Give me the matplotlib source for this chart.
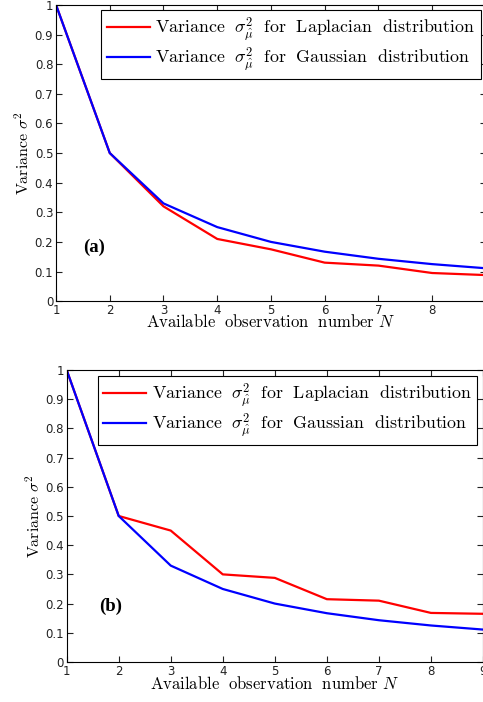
import matplotlib
matplotlib.use("Agg")
import matplotlib.pyplot as plt
from matplotlib.font_manager import FontProperties

plt.rcParams['mathtext.fontset'] = 'cm'

N = [1, 2, 3, 4, 5, 6, 7, 8, 9]
lap_a = [1.0, 0.5, 0.32, 0.21, 0.175, 0.13, 0.12, 0.095, 0.088]
gau_a = [1.0, 0.5, 0.33, 0.25, 0.2, 0.167, 0.143, 0.125, 0.111]
lap_b = [1.0, 0.5, 0.45, 0.30, 0.288, 0.215, 0.21, 0.168, 0.165]
gau_b = [1.0, 0.5, 0.33, 0.25, 0.2, 0.167, 0.143, 0.125, 0.111]
yticks = [0, 0.1, 0.2, 0.3, 0.4, 0.5, 0.6, 0.7, 0.8, 0.9, 1]
ytick_labels = ['0', '0.1', '0.2', '0.3', '0.4', '0.5', '0.6', '0.7', '0.8', '0.9', '1']
lap_label = r'$\mathrm{Variance}\ \ \sigma^2_{\hat{\mu}}\ \ \mathrm{for\ \ Laplacian\ \ distribution}$'
gau_label = r'$\mathrm{Variance}\ \ \sigma^2_{\hat{\mu}}\ \ \mathrm{for\ \ Gaussian\ \ distribution}$'

fig = plt.figure(figsize=(4.83, 7.02), dpi=100)
tag_font = FontProperties(family='Liberation Serif', weight='bold', size=13.5)

def panel(rect, lap, gau, tag, tagpos, legpos, xlabelpad):
    ax = fig.add_axes(rect)
    ax.plot(N, lap, color='#ff0000', lw=1.6, label=lap_label)
    ax.plot(N, gau, color='#0000ff', lw=1.6, label=gau_label)
    ax.set_xlim(1, 9)
    ax.set_ylim(0, 1)
    ax.set_xticks(N)
    ax.set_yticks(yticks)
    ax.set_yticklabels(ytick_labels)
    ax.tick_params(direction='in', top=True, right=True, labelsize=8.5,
                   length=4, width=0.8, pad=2, colors='#222222')
    for s in ax.spines.values():
        s.set_linewidth(0.8)
    ax.set_xlabel(r'$\mathrm{Available\ \ observation\ \ number}\ N$', fontsize=12,
                  labelpad=xlabelpad)
    ax.set_ylabel(r'$\mathrm{Variance}\ \sigma^2$', fontsize=11.5, labelpad=2)
    ax.text(tagpos[0], tagpos[1], tag, fontproperties=tag_font,
            va='center', ha='left')
    leg = ax.legend(loc='upper right', bbox_to_anchor=legpos, borderaxespad=0,
                    fancybox=False, edgecolor='black', framealpha=1,
                    fontsize=12.9, handlelength=2.4, handletextpad=0.3,
                    labelspacing=0.1, borderpad=0.3)
    leg.get_frame().set_linewidth(0.8)
    return ax

panel([0.116, 0.571, 0.890, 0.422], lap_a, gau_a, '(a)', (1.5, 0.18), (0.988, 0.983), -3)
panel([0.138, 0.057, 0.862, 0.416], lap_b, gau_b, '(b)', (1.62, 0.19), (0.986, 0.979), -2)

fig.savefig('out.png', dpi=100)
